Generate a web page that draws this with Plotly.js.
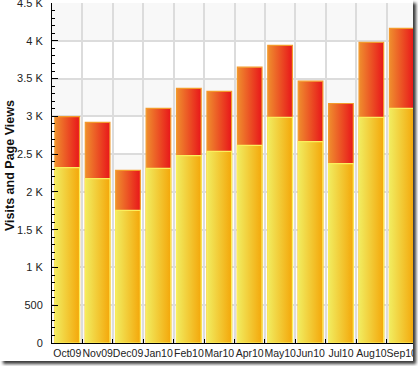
<!DOCTYPE html>
<html>
<head>
<meta charset="utf-8">
<script src="https://cdn.plot.ly/plotly-3.0.1.min.js"></script>
<style>
  html, body { margin: 0; padding: 0; background: #ffffff; }
  #frame { position: absolute; left: 0; top: 0; width: 413px; height: 361px; overflow: hidden;
           box-shadow: 3px 3px 3px #3a3a3a; background: #fff; }
  #chart { width: 418px; height: 366px; }
</style>
</head>
<body>
<div id="frame"><div id="chart"></div></div>
<script>
const months = ["Oct09","Nov09","Dec09","Jan10","Feb10","Mar10","Apr10","May10","Jun10","Jul10","Aug10","Sep10"];
const pageViews = [2995, 2920, 2285, 3105, 3370, 3330, 3650, 3940, 3465, 3170, 3980, 4165];
const visits    = [2320, 2175, 1755, 2310, 2480, 2535, 2615, 2985, 2665, 2375, 2985, 3105];
const yTickVals = [0, 500, 1000, 1500, 2000, 2500, 3000, 3500, 4000, 4500];
const yTickText = ["0", "500", "1 K", "1.5 K", "2 K", "2.5 K", "3 K", "3.5 K", "4 K", "4.5 K"];
const bandStarts = [0, 1000, 2000, 3000, 4000];

const bands = bandStarts.map(s => ({
  type: 'rect', xref: 'paper', yref: 'y', x0: 0, x1: 1, y0: s, y1: s + 500,
  fillcolor: '#f8f8f8', line: {width: 0}, layer: 'below'
}));

const traces = [
  { type: 'bar', x: months, y: pageViews, name: 'Page Views',
    marker: { color: '#ea4a22', line: { color: '#f39a2c', width: 1.2 } }, hoverinfo: 'none' },
  { type: 'bar', x: months, y: visits, name: 'Visits',
    marker: { color: '#f3c82a', line: { color: '#fbef5c', width: 1.2 } }, hoverinfo: 'none' }
];

const layout = {
  width: 418, height: 366,
  margin: { l: 52, r: 1, t: 3, b: 23 },
  paper_bgcolor: '#ffffff', plot_bgcolor: '#ffffff',
  barmode: 'overlay', bargap: 0.19,
  showlegend: false,
  font: { family: '"Liberation Sans", Arial, sans-serif', color: '#222', size: 11 },
  xaxis: {
    type: 'category', tickson: 'boundaries', tickangle: 0,
    ticks: 'inside', ticklen: 4, tickcolor: '#000', tickwidth: 1,
    showgrid: true, gridcolor: '#dcdcdc', gridwidth: 2,
    showline: true, linecolor: '#000', linewidth: 1,
    ticklabeloverflow: 'allow',
    tickfont: { size: 10.5, color: '#222' }, fixedrange: true
  },
  yaxis: {
    range: [0, 4500], tickmode: 'array', tickvals: yTickVals, ticktext: yTickText,
    ticks: 'inside', ticklen: 6, tickcolor: '#000', tickwidth: 1,
    minor: { dtick: 100, ticks: 'inside', ticklen: 3, tickcolor: '#000', showgrid: false },
    showgrid: true, gridcolor: '#dcdcdc', gridwidth: 2,
    showline: true, linecolor: '#000', linewidth: 1,
    zeroline: false, ticklabelstandoff: 6, ticklabeloverflow: 'allow',
    tickfont: { size: 11, color: '#222' }, fixedrange: true
  },
  shapes: bands,
  annotations: [{
    text: '<b>Visits and Page Views</b>', textangle: -90,
    xref: 'paper', yref: 'paper', x: (10 - 52) / 365, y: (343 - 166) / 340,
    xanchor: 'center', yanchor: 'middle', showarrow: false,
    font: { size: 12.5, color: '#111' }
  }]
};

Plotly.newPlot('chart', traces, layout, { staticPlot: true }).then(gd => {
  const svg = gd.querySelector('svg.main-svg');
  const ns = 'http://www.w3.org/2000/svg';
  let defs = svg.querySelector('defs');
  if (!defs) { defs = document.createElementNS(ns, 'defs'); svg.insertBefore(defs, svg.firstChild); }
  function grad(id, c0, c1) {
    const g = document.createElementNS(ns, 'linearGradient');
    g.setAttribute('id', id);
    g.setAttribute('x1', '0'); g.setAttribute('y1', '0');
    g.setAttribute('x2', '1'); g.setAttribute('y2', '0');
    [[0, c0], [1, c1]].forEach(([o, c]) => {
      const s = document.createElementNS(ns, 'stop');
      s.setAttribute('offset', o); s.setAttribute('stop-color', c);
      g.appendChild(s);
    });
    defs.appendChild(g);
  }
  grad('gradRed', '#ef8e2e', '#e8161a');
  grad('gradYellow', '#f1ec60', '#f4a70a');
  const traceGroups = gd.querySelectorAll('.barlayer .trace');
  const ids = ['gradRed', 'gradYellow'];
  traceGroups.forEach((tg, i) => {
    tg.querySelectorAll('.point path').forEach(p => { p.style.fill = 'url(#' + ids[i] + ')'; });
  });
});
</script>
</body>
</html>
